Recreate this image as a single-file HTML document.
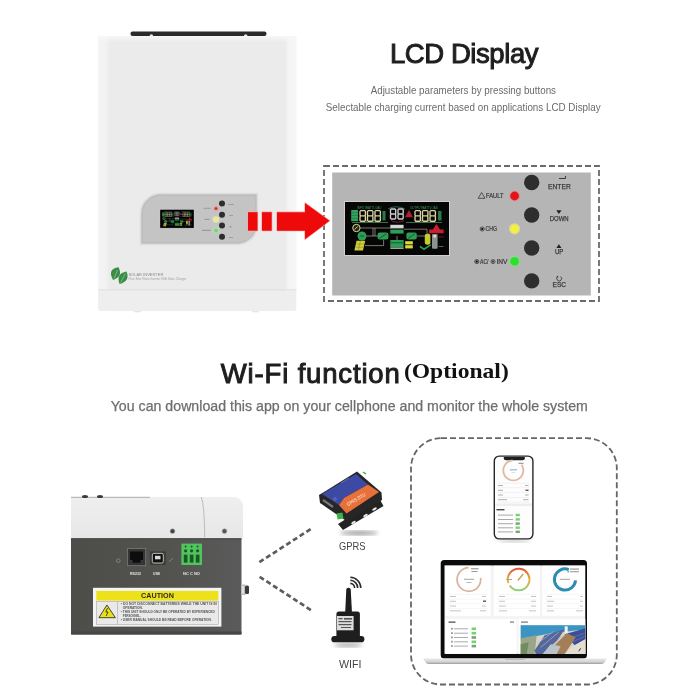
<!DOCTYPE html>
<html><head><meta charset="utf-8">
<style>
html,body{margin:0;padding:0;background:#fff;width:700px;height:700px;overflow:hidden}
svg{display:block;position:absolute;left:0;top:0;filter:blur(0.4px)}
text{font-family:"Liberation Sans",sans-serif}
</style></head>
<body>
<svg width="700" height="700" viewBox="0 0 700 700">
<defs>
  <linearGradient id="bodyG" x1="0" x2="1" y1="0" y2="0">
    <stop offset="0" stop-color="#f4f4f4"/>
    <stop offset="0.04" stop-color="#f2f2f2"/>
    <stop offset="0.06" stop-color="#ebebeb"/>
    <stop offset="0.94" stop-color="#ebebeb"/>
    <stop offset="0.96" stop-color="#f4f4f4"/>
    <stop offset="1" stop-color="#f6f6f6"/>
  </linearGradient>
</defs>

<!-- ============ TOP: inverter front ============ -->
<rect x="130.5" y="31.4" width="136" height="4.6" rx="2" fill="#2b2b2b"/>
<circle cx="151.4" cy="36" r="1.8" fill="#e8e8e8"/><circle cx="245.7" cy="36" r="1.8" fill="#e8e8e8"/>
<rect x="98" y="36" width="198.5" height="275" rx="2" fill="url(#bodyG)"/>
<linearGradient id="topHi" x1="0" x2="0" y1="0" y2="1"><stop offset="0" stop-color="#f7f7f7"/><stop offset="1" stop-color="#f7f7f7" stop-opacity="0"/></linearGradient>
<rect x="98" y="36" width="198.5" height="6" fill="url(#topHi)"/>
<rect x="98.5" y="290.3" width="197.5" height="20.5" rx="2" fill="#eeeeee"/>
<rect x="98" y="289.3" width="198.5" height="1" fill="#dedede"/>
<rect x="134" y="311" width="7" height="1.3" fill="#e6e6e6"/><rect x="252" y="311" width="7" height="1.3" fill="#e6e6e6"/>

<!-- control panel -->
<path d="M160.5,193.5 H257.5 V224.5 A20,20 0 0 1 237.5,244.5 H140.5 V213.5 A20,20 0 0 1 160.5,193.5 Z" fill="#c4c4c4" stroke="#dedede" stroke-width="1.6"/>
<path d="M160.5,195.2 H255.8 V224.5 A18.3,18.3 0 0 1 237.5,242.8 H142.2 V213.5 A18.3,18.3 0 0 1 160.5,195.2 Z" fill="none" stroke="#b9b9b9" stroke-width="0.8"/>
<filter id="soft" x="-10%" y="-10%" width="120%" height="120%"><feGaussianBlur stdDeviation="0.35"/></filter>
<g filter="url(#soft)"><use href="#lcd" transform="translate(160,209.6) scale(0.3238,0.342) translate(-344.5,-201.5)"/>
<rect x="160" y="209.6" width="34" height="18.5" fill="#000" opacity="0.12"/></g>
<g fill="#2d2d2d">
  <circle cx="222" cy="203.5" r="3"/>
  <circle cx="222" cy="214.7" r="3"/>
  <circle cx="222" cy="225.6" r="3"/>
  <circle cx="222" cy="236.7" r="3"/>
</g>
<g fill="#9a9a9a">
<rect x="203.5" y="207.8" width="7" height="1" /><rect x="204.5" y="218.8" width="5" height="1.2"/>
<rect x="202" y="229.8" width="9" height="1.2"/>
<rect x="228" y="204" width="6" height="0.9"/><rect x="229" y="215" width="4" height="0.9"/>
<rect x="229.5" y="226" width="2" height="1.5"/><rect x="229" y="237" width="4" height="0.9"/>
</g>
<circle cx="216" cy="208.5" r="3.2" fill="#dcb0b0"/>
<circle cx="216" cy="219.5" r="3.3" fill="#e4e6b0"/>
<circle cx="216" cy="230.5" r="3.3" fill="#b4dcb4"/>
<circle cx="216" cy="208.5" r="1.6" fill="#c33"/>
<circle cx="216" cy="219.5" r="2" fill="#e9eb8a"/>
<circle cx="216" cy="230.5" r="2" fill="#7bd47b"/>

<!-- leaf logo -->
<circle cx="119" cy="276" r="8.5" fill="#e4f0e4" opacity="0.5"/>
<path d="M113,280 Q107,269 118.5,267.3 Q123.5,276.5 113,280 Z" fill="#3b8c47"/>
<path d="M119.6,284 Q115.5,273.5 126.5,271.5 Q130.5,281 119.6,284 Z" fill="#3b8c47"/>
<path d="M114,278.5 L117.5,270" stroke="#bfe0c0" stroke-width="0.5"/>
<path d="M120.6,282.5 L125.3,273.5" stroke="#bfe0c0" stroke-width="0.5"/>
<text x="128.4" y="275.6" font-size="3.8" fill="#8a8a8a" textLength="35" lengthAdjust="spacingAndGlyphs">SOLAR INVERTER</text>
<text x="128.4" y="280.2" font-size="3.8" font-style="italic" fill="#a0a0a0" textLength="58" lengthAdjust="spacingAndGlyphs">Pure Sine Wave Inverter With Solar Charger</text>


<!-- dashed rect -->
<rect x="324" y="166" width="275" height="135" fill="none" stroke="#6a6a6a" stroke-width="1.8" stroke-dasharray="6 3"/>
<!-- red arrow -->
<g fill="#ee0a0a" stroke="#f7a8a8" stroke-width="1.2" paint-order="stroke" stroke-linejoin="round">
  <rect x="248" y="212.2" width="9.5" height="18.5"/>
  <rect x="262" y="212.2" width="9.7" height="18.5"/>
  <path d="M277,212.2 H305 V203 L329.5,220.8 L305,239.3 V230.7 H277 Z"/>
</g>
<rect x="332.2" y="172.5" width="258.6" height="123" fill="#b5b5b5"/>
<g id="lcd">
<rect x="344.5" y="201.5" width="105" height="54" fill="#060606" stroke="#d0d0d0" stroke-width="1"/>
<!-- tiny green labels -->
<text x="357" y="208.6" font-size="2.9" fill="#3d9a5c" textLength="24.5" lengthAdjust="spacingAndGlyphs">INPUTBATTLOAD</text>
<text x="410" y="208.6" font-size="2.9" fill="#3d9a5c" textLength="28" lengthAdjust="spacingAndGlyphs">OUTPUTBATTLOAD</text>
<path d="M388,209 Q396,204.5 405,209" fill="none" stroke="#2e6b45" stroke-width="1"/>
<!-- battery bar -->
<rect x="351.2" y="210" width="6.8" height="11.2" fill="#2fa25c"/><g fill="#1a6a3a"><rect x="351.2" y="212.6" width="6.8" height="0.5"/><rect x="351.2" y="215.4" width="6.8" height="0.5"/><rect x="351.2" y="218.2" width="6.8" height="0.5"/></g>
<path d="M360.70,210.60L364.70,210.60M365.40,211.30L365.40,215.20M365.40,216.60L365.40,220.50M360.70,221.20L364.70,221.20M360.00,216.60L360.00,220.50M360.00,211.30L360.00,215.20M360.70,215.90L364.70,215.90M368.20,210.60L372.20,210.60M372.90,211.30L372.90,215.20M372.90,216.60L372.90,220.50M368.20,221.20L372.20,221.20M367.50,216.60L367.50,220.50M367.50,211.30L367.50,215.20M368.20,215.90L372.20,215.90M375.70,210.60L379.70,210.60M380.40,211.30L380.40,215.20M380.40,216.60L380.40,220.50M375.70,221.20L379.70,221.20M375.00,216.60L375.00,220.50M375.00,211.30L375.00,215.20M375.70,215.90L379.70,215.90M415.70,210.60L419.70,210.60M420.40,211.30L420.40,215.20M420.40,216.60L420.40,220.50M415.70,221.20L419.70,221.20M415.00,216.60L415.00,220.50M415.00,211.30L415.00,215.20M415.70,215.90L419.70,215.90M423.20,210.60L427.20,210.60M427.90,211.30L427.90,215.20M427.90,216.60L427.90,220.50M423.20,221.20L427.20,221.20M422.50,216.60L422.50,220.50M422.50,211.30L422.50,215.20M423.20,215.90L427.20,215.90M430.70,210.60L434.70,210.60M435.40,211.30L435.40,215.20M435.40,216.60L435.40,220.50M430.70,221.20L434.70,221.20M430.00,216.60L430.00,220.50M430.00,211.30L430.00,215.20M430.70,215.90L434.70,215.90" fill="none" stroke="#d9d5a0" stroke-width="1.35" stroke-linecap="round"/>
<path d="M391.20,209.00L395.00,209.00M395.70,209.70L395.70,213.30M395.70,214.70L395.70,218.30M391.20,219.00L395.00,219.00M390.50,214.70L390.50,218.30M390.50,209.70L390.50,213.30M391.20,214.00L395.00,214.00M398.70,209.00L402.50,209.00M403.20,209.70L403.20,213.30M403.20,214.70L403.20,218.30M398.70,219.00L402.50,219.00M398.00,214.70L398.00,218.30M398.00,209.70L398.00,213.30M398.70,214.00L402.50,214.00" fill="none" stroke="#cdcdcd" stroke-width="1.35" stroke-linecap="round"/>
<g fill="#d9d5a0"><circle cx="366.3" cy="221" r="0.5"/><circle cx="373.8" cy="221" r="0.5"/><circle cx="421.3" cy="221" r="0.5"/><circle cx="428.8" cy="221" r="0.5"/></g>
<!-- kVA side letters -->
<rect x="382.5" y="211" width="3" height="9.5" fill="#2c7a48"/>
<rect x="438" y="211" width="3.5" height="9.5" fill="#2c7a48"/>
<!-- red warn triangle -->
<path d="M409,210 L413,217.2 H405 Z" fill="#b3202e"/>
<path d="M391,220.5 Q397,224 404,220.5" fill="none" stroke="#7a2530" stroke-width="1"/>
<!-- underlines -->
<rect x="352" y="222" width="36" height="0.8" fill="#4a8a5a"/>
<rect x="406" y="222" width="36" height="0.8" fill="#4a8a5a"/>
<!-- connecting lines -->
<g stroke="#a9a99a" stroke-width="0.7" fill="none">
  <path d="M360,228 H391"/>
  <path d="M373,228 V236 M375,228 V236"/>
  <path d="M366,236 H378"/>
  <path d="M365,245.6 H383.6 V239.6"/>
  <path d="M404,229.2 H427 V233"/>
  <path d="M417,236 H425"/>
  <path d="M397,236 V240"/>
</g>
<!-- generator circle -->
<circle cx="356.4" cy="228" r="3.7" fill="#262614" stroke="#d8d49a" stroke-width="1"/>
<path d="M354.5,229.5 L357.8,226.5" stroke="#d8d49a" stroke-width="0.9"/>
<!-- AC green circle -->
<circle cx="362" cy="236" r="4.5" fill="#2c9f55"/>
<path d="M359.8,236.5 Q361,234.8 362,236 T364.3,235.5" stroke="#0b3d1e" stroke-width="0.7" fill="none"/>
<!-- solar panel -->
<path d="M356.5,240.8 H365.2 L363,250.4 H354.4 Z" fill="#d2cc3a"/><path d="M356.2,244 H364.4 M355.6,247.2 H363.7 M360.4,240.8 L358.4,250.4" stroke="#6a6a20" stroke-width="0.4"/>
<!-- inverter boxes -->
<rect x="377.6" y="232.4" width="10.8" height="7.2" rx="2" fill="#2c9f55"/>
<path d="M379.5,238.2 L386.5,233.8" stroke="#0b3d1e" stroke-width="0.7"/>
<rect x="406.4" y="232.4" width="10.4" height="7.2" rx="2" fill="#2c9f55"/>
<path d="M408.2,238.2 L415,233.8" stroke="#0b3d1e" stroke-width="0.7"/>
<!-- center grid blocks -->
<rect x="390.3" y="224.8" width="13.3" height="3.6" fill="#d6d6d6"/>
<rect x="390.3" y="229.6" width="13.3" height="4" fill="#2c9f55"/>
<rect x="390.3" y="240" width="13.3" height="7.2" fill="#2c9f55"/>
<rect x="390.3" y="247.4" width="13.3" height="1.6" fill="#9aa59a"/>
<rect x="391" y="242.5" width="12" height="0.7" fill="#0b3d1e"/>
<rect x="405.2" y="241.2" width="7.6" height="3.2" fill="#dcd840"/>
<rect x="405.2" y="245.2" width="7.6" height="3.2" fill="#dcd840"/>
<!-- bulb / load -->
<rect x="424.8" y="233.6" width="5.6" height="11.2" rx="2.5" fill="#c8c830"/>
<path d="M420,246.5 L424,249.2 L430.8,244.8" stroke="#2c9f55" stroke-width="1.6" fill="none"/>
<rect x="432" y="234" width="5.6" height="14.8" rx="1" fill="#8d948d"/>
<rect x="433.5" y="235" width="2.5" height="2.5" fill="#ddd"/>
<!-- red house -->
<path d="M436.4,224 L440,229.5 H443.6 V233.2 H429.2 V229.5 H432.8 Z" fill="#c92030"/>
<rect x="438" y="236.5" width="6" height="0.9" fill="#6e1a22"/>
<rect x="438.5" y="246" width="5" height="0.8" fill="#777"/>
</g>

<!-- panel buttons -->
<g fill="#2e2e2e">
  <circle cx="531.7" cy="182.5" r="7.7"/>
  <circle cx="531.7" cy="215" r="7.7"/>
  <circle cx="531.7" cy="248" r="7.7"/>
  <circle cx="531.7" cy="280.9" r="7.7"/>
</g>
<circle cx="514.6" cy="196" r="5.6" fill="#d49a9a"/>
<circle cx="514.6" cy="228.8" r="5.6" fill="#d6d6a0"/>
<circle cx="514.6" cy="261.4" r="5.6" fill="#9ad09a"/>
<circle cx="514.6" cy="196" r="4.4" fill="#e3141c"/>
<circle cx="514.6" cy="228.8" r="4.4" fill="#f3f040"/>
<circle cx="514.6" cy="261.4" r="4.4" fill="#2ee02e"/>
<g fill="#3a3a3a" stroke="#3a3a3a" stroke-width="0.25" font-size="7">
  <text x="548" y="188.7" textLength="22.8" lengthAdjust="spacingAndGlyphs">ENTER</text>
  <text x="549.7" y="221.2" textLength="18.9" lengthAdjust="spacingAndGlyphs">DOWN</text>
  <text x="554.9" y="254" textLength="8.5" lengthAdjust="spacingAndGlyphs">UP</text>
  <text x="552.6" y="287.4" textLength="13.4" lengthAdjust="spacingAndGlyphs">ESC</text>
</g>
<path d="M559,178.5 H565.5 V176" fill="none" stroke="#3a3a3a" stroke-width="1"/>
<path d="M556.3,210.3 H561.5 L558.9,214 Z" fill="#222"/>
<path d="M556.3,248 H561.5 L558.9,244.2 Z" fill="#222"/>
<path d="M560.58,276.63 A2.4,2.4 0 1 1 557.82,276.63" fill="none" stroke="#3a3a3a" stroke-width="0.9"/><path d="M557.2,275.4 L558.4,277.2 L556.4,277.6 Z" fill="#3a3a3a"/>
<g fill="#3a3a3a" stroke="#3a3a3a" stroke-width="0.2" font-size="6.3">
  <text x="486" y="198.3" textLength="17.4" lengthAdjust="spacingAndGlyphs">FAULT</text>
  <text x="485.5" y="231.2" textLength="11.5" lengthAdjust="spacingAndGlyphs">CHG</text>
  <text x="480" y="263.8" textLength="8.5" lengthAdjust="spacingAndGlyphs">AC/</text>
  <text x="496.5" y="263.8" textLength="11" lengthAdjust="spacingAndGlyphs">INV</text>
</g>
<path d="M481.6,192.5 L485,198.3 H478.2 Z" fill="none" stroke="#3a3a3a" stroke-width="0.8"/>
<circle cx="482.2" cy="229" r="2.1" fill="#999" stroke="#333" stroke-width="0.7"/><circle cx="482.2" cy="229" r="1.1" fill="#111"/>
<circle cx="476.8" cy="261.6" r="2.1" fill="#999" stroke="#333" stroke-width="0.7"/><circle cx="476.8" cy="261.6" r="1.1" fill="#111"/>
<circle cx="493" cy="261.6" r="2.1" fill="#999" stroke="#444" stroke-width="0.7"/><circle cx="493" cy="261.6" r="1.1" fill="#444"/>

<!-- titles -->
<text x="390" y="62.8" font-size="27.5" fill="#1e1e1e" stroke="#1e1e1e" stroke-width="1" textLength="148.5" lengthAdjust="spacing">LCD Display</text>
<text x="370.7" y="93.5" font-size="10.5" fill="#6a6a6a" textLength="185.3" lengthAdjust="spacingAndGlyphs">Adjustable parameters by pressing buttons</text>
<text x="325.8" y="111" font-size="10.5" fill="#6a6a6a" textLength="274.8" lengthAdjust="spacingAndGlyphs">Selectable charging current based on applications LCD Display</text>

<text x="220.8" y="382.6" font-size="27.5" fill="#1e1e1e" stroke="#1e1e1e" stroke-width="1" textLength="179" lengthAdjust="spacing">Wi-Fi function</text>
<text x="403.9" y="378.2" font-size="22" font-weight="bold" fill="#111" style="font-family:'Liberation Serif',serif" textLength="104.9" lengthAdjust="spacingAndGlyphs">(Optional)</text>
<text x="110.7" y="410.7" font-size="14" fill="#6e6e6e" stroke="#6e6e6e" stroke-width="0.25" textLength="477.2" lengthAdjust="spacingAndGlyphs">You can download this app on your cellphone and monitor the whole system</text>

<!-- ============ BOTTOM ============ -->
<!-- inverter side -->
<linearGradient id="wtop" x1="0" x2="0" y1="0" y2="1">
  <stop offset="0" stop-color="#efefef"/><stop offset="1" stop-color="#e7e7e7"/>
</linearGradient>
<path d="M71,497 H234 A9,9 0 0 1 243,506 V538.5 H71 Z" fill="url(#wtop)"/>
<path d="M71,497.3 H150" stroke="#9a9a9a" stroke-width="0.8"/>
<ellipse cx="85" cy="496.5" rx="3" ry="1.5" fill="#3a3a3a"/>
<ellipse cx="100" cy="496.5" rx="3" ry="1.5" fill="#3a3a3a"/>
<path d="M201.3,497 Q204.5,505 204.7,537.5" fill="none" stroke="#b5b5b5" stroke-width="0.9"/>
<circle cx="172.5" cy="531.2" r="2.4" fill="#444" stroke="#aaa" stroke-width="0.6"/>
<circle cx="224.5" cy="531.2" r="2.4" fill="#555" stroke="#aaa" stroke-width="0.6"/>
<linearGradient id="darkG" x1="0" x2="1" y1="0" y2="0"><stop offset="0" stop-color="#4d4e4a"/><stop offset="0.55" stop-color="#52524f"/><stop offset="1" stop-color="#5a5a5a"/></linearGradient>
<rect x="71" y="538.3" width="170.5" height="96.3" rx="1" fill="url(#darkG)"/>
<rect x="71" y="631.5" width="170.5" height="3" fill="#474747"/>
<rect x="71" y="538.3" width="170.5" height="1.2" fill="#4a4a4a"/>
<!-- ports -->
<circle cx="118.3" cy="560.7" r="1.8" fill="none" stroke="#8a8a8a" stroke-width="0.8"/>
<rect x="127.4" y="548.6" width="18.3" height="17.1" fill="#353535" stroke="#7a7a7a" stroke-width="0.8"/>
<path d="M130,551.5 H143 V560 H140.5 V562.8 H132.5 V560 H130 Z" fill="#0d0d0d"/>
<rect x="150" y="551.4" width="15.7" height="13.6" fill="#3c3c3c"/>
<rect x="152.3" y="553.4" width="11" height="9.6" rx="1.5" fill="#111" stroke="#cfcfcf" stroke-width="0.9"/>
<rect x="155" y="555.8" width="5.5" height="3.5" fill="#d9d9d9"/>
<path d="M169,562 L173,558" stroke="#8a8a8a" stroke-width="0.8"/>
<rect x="181.4" y="543.6" width="20.6" height="21.4" fill="#52c45e"/>
<g fill="#1a5a22">
  <circle cx="185.6" cy="546.5" r="1"/><circle cx="191.6" cy="546.5" r="1"/><circle cx="197.6" cy="546.5" r="1"/>
  <circle cx="185.6" cy="550.8" r="1.6"/><circle cx="191.6" cy="550.8" r="1.6"/><circle cx="197.6" cy="550.8" r="1.6"/>
  <rect x="183.8" y="554.6" width="3.7" height="8"/><rect x="189.8" y="554.6" width="3.7" height="8"/><rect x="195.8" y="554.6" width="3.7" height="8"/>
</g>
<g fill="#e5e5e5" font-size="4" font-weight="bold">
  <text x="130" y="574.5" textLength="11" lengthAdjust="spacingAndGlyphs">RS232</text>
  <text x="153" y="574.5" textLength="7" lengthAdjust="spacingAndGlyphs">USB</text>
  <text x="183" y="574.5" textLength="17" lengthAdjust="spacingAndGlyphs">NC  C  NO</text>
</g>
<!-- side connector -->
<rect x="241" y="584.5" width="4.5" height="10.5" fill="#bdbdbd"/>
<rect x="245" y="585.5" width="4" height="8.5" rx="1.5" fill="#3a3a3a"/><rect x="242" y="586" width="2" height="7.5" fill="#e0e0e0"/>
<!-- caution label -->
<rect x="93" y="587.8" width="128.4" height="38.8" fill="#f4f4f4"/><rect x="96.3" y="601.3" width="122" height="23" fill="#e9e9ea"/>
<rect x="96.3" y="590.9" width="122" height="9.7" fill="#ede21a"/>
<text x="141.1" y="598.2" font-size="7.5" font-weight="bold" fill="#2a2a2a" textLength="32.8" lengthAdjust="spacingAndGlyphs">CAUTION</text>
<rect x="96.3" y="601.3" width="122" height="23" fill="none" stroke="#9a9a9a" stroke-width="0.5"/>
<rect x="117.5" y="601.3" width="0.5" height="23" fill="#9a9a9a"/>
<path d="M106.9,605 L115.4,617.7 H98.9 Z" fill="#e9e01a" stroke="#333" stroke-width="0.9"/>
<path d="M107.6,608 L105.8,612 L108,612 L106.2,616" fill="none" stroke="#222" stroke-width="0.8"/>
<g fill="#555" font-size="3.6" font-weight="bold">
  <text x="120.8" y="605.2" textLength="96" lengthAdjust="spacingAndGlyphs">• DO NOT DISCONNECT BATTERIES WHILE THE UNIT IS IN</text>
  <text x="122.8" y="609" textLength="20" lengthAdjust="spacingAndGlyphs">OPERATION.</text>
  <text x="120.8" y="613.2" textLength="94" lengthAdjust="spacingAndGlyphs">• THIS UNIT SHOULD ONLY BE OPERATED BY EXPERIENCED</text>
  <text x="122.8" y="617" textLength="18" lengthAdjust="spacingAndGlyphs">PERSONNEL.</text>
  <text x="120.8" y="621.3" textLength="91" lengthAdjust="spacingAndGlyphs">• USER MANUAL SHOULD BE READ BEFORE OPERATION.</text>
</g>

<!-- dashed lines -->
<g stroke="#5c5c5c" stroke-width="2.7" stroke-dasharray="5 3">
  <line x1="259.4" y1="562.2" x2="312.9" y2="527.6"/>
  <line x1="259.7" y1="576.8" x2="312.9" y2="611.4"/>
</g>

<!-- GPRS device -->
<filter id="blur2"><feGaussianBlur stdDeviation="2"/></filter>
<ellipse cx="359" cy="533" rx="19" ry="2.2" fill="#9a9a9a" filter="url(#blur2)"/>
<!-- flange -->
<path d="M338,524 L379,498 L383.5,506 L343,530 Z" fill="#232323"/>
<g fill="#e8e8e8"><ellipse cx="353.5" cy="522.5" rx="2.6" ry="1.1" transform="rotate(-31 353.5 522.5)"/><ellipse cx="365.5" cy="515.5" rx="2.6" ry="1.1" transform="rotate(-31 365.5 515.5)"/><ellipse cx="374.5" cy="509" rx="2.6" ry="1.1" transform="rotate(-31 374.5 509)"/></g>
<!-- body -->
<path d="M319,495 L357,471.5 L381.5,492.5 L382,500 L347,521.5 L320,503 Z" fill="#262626"/>
<path d="M322,494 L356,474 L368,484.5 L344,498 L339,505 Z" fill="#3c4aa3"/>
<path d="M344,498 L368,484.5 L379,492 L346.5,513.5 L339,505 Z" fill="#e8713a"/>
<text x="0" y="0" font-size="5.2" font-weight="bold" fill="#f6d2b8" transform="translate(348,506.5) rotate(-31)" textLength="21" lengthAdjust="spacingAndGlyphs">GPRS DTU</text>
<path d="M341,483 L349,478" stroke="#8d96cc" stroke-width="0.6"/>
<circle cx="335" cy="499" r="1.3" fill="none" stroke="#8d96cc" stroke-width="0.5"/>
<path d="M323,500 L333,507" stroke="#777" stroke-width="2.2"/>
<rect x="337" y="513" width="6" height="6" fill="#3fb04a" transform="rotate(-10 340 516)"/>
<path d="M363,472 L366,474" stroke="#4a4" stroke-width="1.5"/>
<text x="338.9" y="549.6" font-size="11.8" fill="#444" textLength="26.5" lengthAdjust="spacingAndGlyphs">GPRS</text>

<!-- wifi dongle -->
<ellipse cx="348" cy="645" rx="14" ry="1.8" fill="#999" filter="url(#blur2)"/>
<path d="M346.3,589 Q348.5,586.5 350.7,589 L352,613 H345.2 Z" fill="#1e1e1e"/>
<path d="M336.4,614 Q336.4,611.4 339,611.4 H357.3 Q359.9,611.4 359.9,614 V640.6 H336.4 Z" fill="#1e1e1e"/>
<rect x="331.3" y="636" width="33.1" height="6.3" rx="3.1" fill="#1e1e1e"/>
<rect x="337" y="616" width="16.6" height="14.3" fill="#dcdcdc"/>
<g fill="#555"><rect x="338.5" y="618" width="4" height="1.3"/><rect x="344" y="618" width="8" height="1.6"/><rect x="338.5" y="621" width="13" height="1.2"/><rect x="338.5" y="624" width="13" height="1.2"/><rect x="341" y="627" width="10" height="1"/></g>
<g fill="none" stroke="#2a2a2a" stroke-width="1.6">
  <path d="M350.3,583.4 A4.6,4.6 0 0 1 354.6,588"/>
  <path d="M350.3,580.3 A7.7,7.7 0 0 1 357.7,588"/>
  <path d="M350.3,577.2 A10.8,10.8 0 0 1 360.8,588"/>
</g>
<text x="339" y="668.2" font-size="10.7" fill="#444" textLength="22.5" lengthAdjust="spacingAndGlyphs">WIFI</text>

<!-- dashed rounded box -->
<rect x="411" y="438.2" width="205.8" height="246.3" rx="30" fill="none" stroke="#666" stroke-width="1.8" stroke-dasharray="6 3"/>

<!-- phone -->
<ellipse cx="514" cy="541" rx="16" ry="1.5" fill="#bbb" filter="url(#blur2)"/>
<rect x="493.6" y="455.4" width="40" height="84.2" rx="5.5" fill="#262626"/>
<rect x="495" y="456.8" width="37.2" height="81.4" rx="4.2" fill="#fdfdfd"/>
<path d="M503.8,457 H524.8 V458.5 Q524.8,460.2 522.8,460.2 H505.8 Q503.8,460.2 503.8,458.5 Z" fill="#1f1f1f"/>
<path d="M521.49,464.66 A10,10 0 1 1 512.43,460.44" fill="none" stroke-width="1.8" stroke="#e2b9a2"/>
<rect x="510" y="469.2" width="7" height="1.2" fill="#9cb8d0"/>
<rect x="511.5" y="472" width="4" height="0.8" fill="#cfe0d8"/>
<rect x="518.5" y="462.8" width="5" height="1" fill="#888"/>
<g fill="#e6e6e6">
  <rect x="497.5" y="482.8" width="32" height="0.5"/>
  <rect x="497.5" y="487.6" width="32" height="0.5"/>
  <rect x="497.5" y="492.4" width="32" height="0.5"/>
  <rect x="497.5" y="497.2" width="32" height="0.5"/>
  <rect x="497.5" y="501.8" width="32" height="0.5"/>
</g>
<g fill="#b0b0b0">
  <rect x="498" y="485" width="5" height="1"/><rect x="525" y="485" width="3.5" height="1"/>
  <rect x="498" y="489.8" width="5" height="1"/><rect x="525.5" y="489.6" width="3" height="1.4" fill="#555"/>
  <rect x="498" y="494.5" width="5" height="1"/><rect x="525" y="494.5" width="3.5" height="1"/>
  <rect x="498" y="499.2" width="9" height="1"/><rect x="523" y="499.2" width="5.5" height="1"/>
</g>
<rect x="495.3" y="503.5" width="36.6" height="2.6" fill="#eeeeee"/>
<rect x="496.5" y="509" width="8" height="1.4" fill="#444"/>
<g fill="#a8a8a8">
  <rect x="498" y="514.6" width="15" height="1"/><rect x="498" y="519" width="15" height="1"/>
  <rect x="498" y="523.2" width="15" height="1"/><rect x="498" y="527.3" width="15" height="1"/>
  <rect x="498" y="531.4" width="15" height="1"/>
</g>
<g fill="#75d36f">
  <rect x="515.6" y="513.8" width="4.2" height="2.4"/><rect x="515.6" y="518.2" width="4.2" height="2.4"/>
  <rect x="515.6" y="526.5" width="4.2" height="2.4"/>
</g>
<g fill="#7f9f7a">
  <rect x="515.6" y="522.4" width="4.2" height="2.4"/><rect x="515.6" y="530.6" width="4.2" height="2.4"/>
</g>

<!-- laptop -->
<linearGradient id="base" x1="0" x2="0" y1="0" y2="1">
  <stop offset="0" stop-color="#e9e9e9"/><stop offset="0.6" stop-color="#d4d4d4"/><stop offset="1" stop-color="#9c9c9c"/>
</linearGradient>
<linearGradient id="g2" x1="0" x2="0" y1="0" y2="1">
  <stop offset="0" stop-color="#e0553a"/><stop offset="0.5" stop-color="#f0b030"/><stop offset="1" stop-color="#8fd07a"/>
</linearGradient>
<rect x="440.7" y="560" width="146.3" height="98.5" rx="3.5" fill="#0b0b0b"/>
<rect x="444.5" y="565.4" width="140.8" height="88.5" fill="#f4f4f4"/>
<path d="M423,658.4 H607 L604,663 Q603,664 600,664 H430 Q427,664 426,663 Z" fill="url(#base)"/>
<rect x="505" y="658.4" width="20" height="1.5" rx="0.7" fill="#bdbdbd"/>
<!-- cards -->
<g fill="#ffffff">
  <rect x="445.5" y="565.8" width="45" height="50"/>
  <rect x="494" y="565.8" width="46" height="50"/>
  <rect x="542.4" y="565.8" width="42.3" height="50"/>
  <rect x="445.5" y="619" width="71" height="34.8"/>
  <rect x="518.5" y="619" width="66.8" height="34.8"/>
</g>
<path d="M480.59,577.86 A11.8,11.8 0 1 1 468.49,567.71" fill="none" stroke="#d8b29c" stroke-width="1.7"/>
<path d="M508.45,583.19 A10.8,10.8 0 1 1 509.75,585.69" fill="none" stroke="url(#g2)" stroke-width="2"/>
<path d="M517.8,580.5 L523.2,574" stroke="#c9a040" stroke-width="1.3"/>
<path d="M575.56,580.42 A10.6,10.6 0 1 1 568.63,569.54" fill="none" stroke="#2d8cb3" stroke-width="3"/>
<g fill="#a5a5a5">
  <rect x="464" y="578.8" width="10" height="1"/><rect x="466.5" y="582" width="5" height="0.8"/>
  <rect x="506" y="579" width="6" height="1"/>
  <rect x="560" y="578.8" width="10" height="1"/>
</g>
<rect x="471" y="568.3" width="7.5" height="1" fill="#888"/><rect x="471.5" y="571" width="6" height="1" fill="#999"/>
<rect x="567.5" y="568.3" width="1.5" height="1.5" fill="#2d8cb3"/><rect x="570" y="568.6" width="9" height="0.9" fill="#777"/><rect x="567.5" y="571" width="1.5" height="1.5" fill="#5aa8c8"/><rect x="570" y="571.3" width="9" height="0.9" fill="#888"/>
<g fill="#ececec">
  <rect x="448.5" y="594" width="39" height="0.5"/><rect x="448.5" y="598.8" width="39" height="0.5"/>
  <rect x="448.5" y="603.6" width="39" height="0.5"/><rect x="448.5" y="608.4" width="39" height="0.5"/>
  <rect x="497" y="594" width="40" height="0.5"/><rect x="497" y="598.8" width="40" height="0.5"/>
  <rect x="497" y="603.6" width="40" height="0.5"/><rect x="497" y="608.4" width="40" height="0.5"/>
  <rect x="545" y="594" width="38" height="0.5"/><rect x="545" y="598.8" width="38" height="0.5"/>
  <rect x="545" y="603.6" width="38" height="0.5"/><rect x="545" y="608.4" width="38" height="0.5"/>
</g>
<g fill="#bdbdbd">
  <rect x="450" y="596" width="6" height="0.9"/><rect x="482" y="596" width="4" height="0.9"/>
  <rect x="450" y="600.8" width="6" height="0.9"/><rect x="483" y="600.5" width="3" height="1.4" fill="#555"/>
  <rect x="450" y="605.6" width="6" height="0.9"/><rect x="482" y="605.6" width="4" height="0.9"/>
  <rect x="450" y="610.4" width="11" height="0.9"/><rect x="480" y="610.4" width="6" height="0.9"/>
  <rect x="499" y="596" width="6" height="0.9"/><rect x="531" y="596" width="5" height="0.9"/>
  <rect x="499" y="600.8" width="6" height="0.9"/><rect x="531" y="600.8" width="5" height="0.9"/>
  <rect x="499" y="605.6" width="7" height="0.9"/><rect x="531" y="605.6" width="5" height="0.9"/>
  <rect x="499" y="610.4" width="8" height="0.9"/><rect x="529" y="610.4" width="7" height="0.9"/>
  <rect x="547" y="596" width="5" height="0.9"/><rect x="580" y="596" width="3" height="0.9"/>
  <rect x="547" y="600.8" width="7" height="0.9"/><rect x="580" y="600.8" width="3" height="0.9"/>
  <rect x="547" y="605.6" width="6" height="0.9"/><rect x="580" y="605.6" width="3" height="0.9"/>
  <rect x="547" y="610.4" width="7" height="0.9"/><rect x="576" y="610.4" width="7" height="0.9"/>
</g>
<rect x="448.5" y="621.5" width="7" height="1.3" fill="#555"/>
<rect x="510" y="621.5" width="4" height="1.2" fill="#777"/>
<rect x="521" y="621.5" width="7" height="1.2" fill="#777"/>
<g fill="#acacac">
  <rect x="454" y="628.3" width="14" height="1"/><rect x="454" y="632.7" width="14" height="1"/>
  <rect x="454" y="637" width="14" height="1"/><rect x="454" y="641.3" width="14" height="1"/>
  <rect x="454" y="645.6" width="14" height="1"/>
</g>
<g fill="#9a9a9a">
  <rect x="451" y="627.8" width="1.8" height="1.8"/><rect x="451" y="632.2" width="1.8" height="1.8"/>
  <rect x="451" y="636.5" width="1.8" height="1.8"/><rect x="451" y="640.8" width="1.8" height="1.8"/>
  <rect x="451" y="645.1" width="1.8" height="1.8"/>
</g>
<g fill="#75d36f">
  <rect x="471.6" y="627.5" width="4.5" height="2.6"/><rect x="471.6" y="631.9" width="4.5" height="2.6"/>
  <rect x="471.6" y="640.5" width="4.5" height="2.6"/>
</g>
<g fill="#7f9f7a"><rect x="471.6" y="636.2" width="4.5" height="2.6"/><rect x="471.6" y="644.8" width="4.5" height="2.6"/></g>
<!-- solar image -->
<svg x="520.7" y="625.3" width="64.6" height="28.6" viewBox="0 0 64.6 28.6">
  <rect width="64.6" height="28.6" fill="#d9d2c4"/>
  <path d="M0,0 H64.6 V4 L30,8 L0,14 Z" fill="#3a95c4"/>
  <path d="M0,13 L16,10 L14,28.6 H0 Z" fill="#9aa68a"/>
  <path d="M0,19 L8,17 L6,28.6 H0 Z" fill="#6f8d5e"/>
  <path d="M14,25 L24,10 L44,4 L36,16 L22,28.6 H15 Z" fill="#56679c"/>
  <path d="M20,22 L38,7 M17,18 L33,6 M25,26 L41,11" stroke="#aab4cc" stroke-width="0.7"/>
  <path d="M44,9 L64.6,3 V14 L54,20 Z" fill="#3b4f98"/>
  <path d="M49,13 L64,8 M51,17 L64,11" stroke="#7e8fc0" stroke-width="0.5"/>
  <path d="M34,20 L46,8 L55,12 L44,28.6 H36 Z" fill="#a47e56"/>
  <path d="M22,28.6 L30,19 L40,21 L36,28.6 Z" fill="#b9c4c8"/>
  <path d="M52,21 L64.6,14 V28.6 H44 Z" fill="#e4ded2"/>
  <rect x="44" y="1" width="3" height="7" fill="#eef4f6"/>
  <path d="M58,26 L60,23" stroke="#333" stroke-width="1"/>
</svg>
</svg>
</body></html>
